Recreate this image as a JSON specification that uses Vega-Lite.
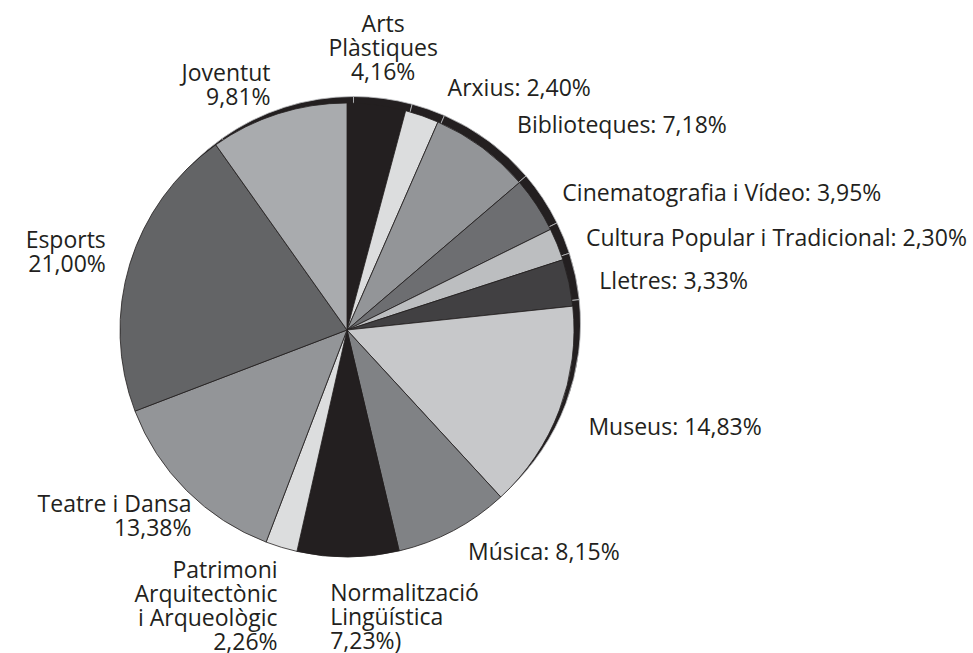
{
  "$schema": "https://vega.github.io/schema/vega-lite/v6.json",
  "width": 694,
  "height": 660,
  "autosize": {"type": "none"},
  "padding": {"left": 0, "top": 0, "right": 279, "bottom": 0},
  "background": "white",
  "config": {"view": {"stroke": null}, "text": {"font": "Open Sans", "fontSize": 23, "fill": "#231f20", "lineHeight": 24}},
  "data": {"values": [
    {"area": "Arts Plàstiques", "valor": 4.16, "ordre": 1, "etiqueta": "Arts\nPlàstiques\n4,16%"},
    {"area": "Arxius", "valor": 2.40, "ordre": 2, "etiqueta": "Arxius: 2,40%"},
    {"area": "Biblioteques", "valor": 7.18, "ordre": 3, "etiqueta": "Biblioteques: 7,18%"},
    {"area": "Cinematografia i Vídeo", "valor": 3.95, "ordre": 4, "etiqueta": "Cinematografia i Vídeo: 3,95%"},
    {"area": "Cultura Popular i Tradicional", "valor": 2.30, "ordre": 5, "etiqueta": "Cultura Popular i Tradicional: 2,30%"},
    {"area": "Lletres", "valor": 3.33, "ordre": 6, "etiqueta": "Lletres: 3,33%"},
    {"area": "Museus", "valor": 14.83, "ordre": 7, "etiqueta": "Museus: 14,83%"},
    {"area": "Música", "valor": 8.15, "ordre": 8, "etiqueta": "Música: 8,15%"},
    {"area": "Normalització Lingüística", "valor": 7.23, "ordre": 9, "etiqueta": "Normalització\nLingüística\n7,23%)"},
    {"area": "Patrimoni Arquitectònic i Arqueològic", "valor": 2.26, "ordre": 10, "etiqueta": "Patrimoni\nArquitectònic\ni Arqueològic\n2,26%"},
    {"area": "Teatre i Dansa", "valor": 13.38, "ordre": 11, "etiqueta": "Teatre i Dansa\n13,38%"},
    {"area": "Esports", "valor": 21.00, "ordre": 12, "etiqueta": "Esports\n21,00%"},
    {"area": "Joventut", "valor": 9.81, "ordre": 13, "etiqueta": "Joventut\n9,81%"}
  ]},
  "encoding": {
    "theta": {"field": "valor", "type": "quantitative", "stack": true},
    "order": {"field": "ordre", "type": "quantitative"},
    "detail": {"field": "area", "type": "nominal"}
  },
  "layer": [
    {
      "mark": {"type": "arc", "radius": 227, "xOffset": 6.5, "yOffset": -6.5, "fill": "#231f20", "stroke": "#bcbec0", "strokeWidth": 0.8}
    },
    {
      "mark": {"type": "arc", "radius": 227, "stroke": "#231f20", "strokeWidth": 0.8},
      "encoding": {
        "color": {"field": "area", "type": "nominal", "legend": null,
          "scale": {
            "domain": ["Arts Plàstiques", "Arxius", "Biblioteques", "Cinematografia i Vídeo", "Cultura Popular i Tradicional", "Lletres", "Museus", "Música", "Normalització Lingüística", "Patrimoni Arquitectònic i Arqueològic", "Teatre i Dansa", "Esports", "Joventut"],
            "range": ["#231f20", "#dcddde", "#939598", "#6d6e71", "#bcbec0", "#414042", "#c7c8ca", "#808285", "#231f20", "#dcddde", "#939598", "#636466", "#a9abae"]
          }}
      }
    },
    {
      "mark": {"type": "text", "radius": 262, "align": "left", "baseline": "middle", "dx": 14, "dy": 6},
      "encoding": {"text": {"condition": {"test": "datum.area == 'Arxius' || datum.area == 'Biblioteques'", "field": "etiqueta"}, "value": ""}}
    },
    {
      "mark": {"type": "text", "radius": 258, "align": "left", "baseline": "middle", "dy": 6},
      "encoding": {"text": {"condition": {"test": "indexof(['Cinematografia i Vídeo','Cultura Popular i Tradicional','Lletres'], datum.area) >= 0", "field": "etiqueta"}, "value": ""}}
    },
    {
      "mark": {"type": "text", "radius": 258, "align": "left", "baseline": "middle", "dy": 7},
      "encoding": {"text": {"condition": {"test": "datum.area == 'Museus'", "field": "etiqueta"}, "value": ""}}
    },
    {
      "mark": {"type": "text", "radius": 258, "align": "left", "baseline": "middle", "dy": -5},
      "encoding": {"text": {"condition": {"test": "datum.area == 'Música'", "field": "etiqueta"}, "value": ""}}
    },
    {
      "mark": {"type": "text", "radius": 308, "align": "center", "baseline": "middle", "dx": -4, "lineBreak": "\n"},
      "encoding": {"text": {"condition": {"test": "datum.area == 'Arts Plàstiques'", "field": "etiqueta"}, "value": ""}}
    },
    {
      "mark": {"type": "text", "radius": 252, "align": "right", "baseline": "middle", "dy": -16, "lineBreak": "\n"},
      "encoding": {"text": {"condition": {"test": "datum.area == 'Esports' || datum.area == 'Joventut'", "field": "etiqueta"}, "value": ""}}
    },
    {
      "mark": {"type": "text", "radius": 220, "align": "right", "baseline": "top", "dy": 8, "lineBreak": "\n"},
      "encoding": {"text": {"condition": {"test": "datum.area == 'Teatre i Dansa'", "field": "etiqueta"}, "value": ""}}
    },
    {
      "mark": {"type": "text", "radius": 240, "align": "right", "baseline": "top", "lineBreak": "\n"},
      "encoding": {"text": {"condition": {"test": "datum.area == 'Patrimoni Arquitectònic i Arqueològic'", "field": "etiqueta"}, "value": ""}}
    },
    {
      "mark": {"type": "text", "radius": 253, "align": "left", "baseline": "top", "dx": -18, "lineBreak": "\n"},
      "encoding": {"text": {"condition": {"test": "datum.area == 'Normalització Lingüística'", "field": "etiqueta"}, "value": ""}}
    }
  ]
}
